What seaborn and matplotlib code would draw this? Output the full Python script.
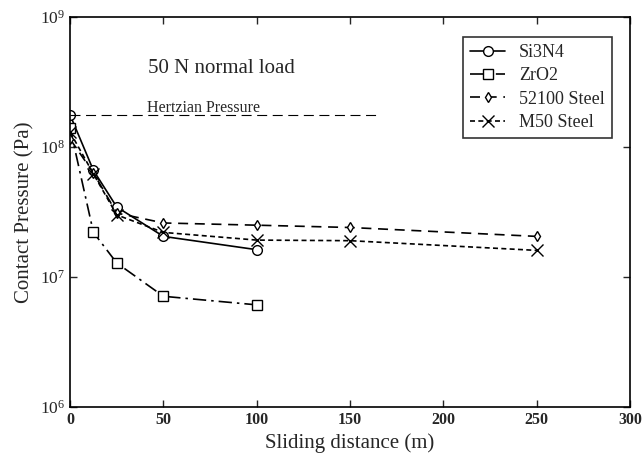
import matplotlib
matplotlib.use("Agg")
import matplotlib.pyplot as plt
import seaborn as sns
import pandas as pd

# sliding distance (m) and contact pressure (Pa)
si3n4_x = [0, 12.5, 25, 50, 100]
si3n4_y = [1.76e8, 6.6e7, 3.45e7, 2.05e7, 1.62e7]

zro2_x = [0, 12.5, 25, 50, 100]
zro2_y = [1.40e8, 2.2e7, 1.28e7, 7.1e6, 6.1e6]

s52100_x = [0, 12.5, 25, 50, 100, 150, 250]
s52100_y = [1.15e8, 6.3e7, 3.1e7, 2.6e7, 2.5e7, 2.4e7, 2.05e7]

m50_x = [0, 12.5, 25, 50, 100, 150, 250]
m50_y = [1.30e8, 6.2e7, 3.0e7, 2.2e7, 1.92e7, 1.9e7, 1.6e7]

hertz_x = [0, 165]
hertz_y = [1.76e8, 1.76e8]

sns.set_style("ticks")
plt.rcParams['font.family'] = ['Liberation Serif', 'DejaVu Serif']
plt.rcParams['mathtext.fontset'] = 'stix'

fig = plt.figure(figsize=(6.43, 4.55), dpi=100)
ax = fig.add_axes([0.109, 0.1055, 0.871, 0.8575])

series = [
    ("Si3N4", si3n4_x, si3n4_y, "-", "o", 7),
    ("ZrO2", zro2_x, zro2_y, (0, (8, 3, 1.5, 3)), "s", 7),
    ("52100 Steel", s52100_x, s52100_y, (0, (6, 4)), "d", 5.5),
    ("M50 Steel", m50_x, m50_y, (0, (3, 2)), "x", 8),
]
for name, xs, ys, ls, mk, ms in series:
    df = pd.DataFrame({"x": xs, "y": ys})
    sns.lineplot(data=df, x="x", y="y", ax=ax, color="black", linestyle=ls,
                 marker=mk, markersize=ms, markerfacecolor="white",
                 markeredgecolor="black", markeredgewidth=1.0, lw=1.2,
                 label=name)

sns.lineplot(x=hertz_x, y=hertz_y, ax=ax, color="black", lw=0.8,
             linestyle=(0, (9, 5)))

ax.set_yscale("log")
ax.set_xlim(0, 300)
ax.set_ylim(1e6, 1e9)
ax.set_xticks([0, 50, 100, 150, 200, 250, 300])
ax.set_xticklabels(["0", "50", "100", "150", "200", "250", "300"],
                   fontweight="bold", fontsize=11.5)
ax.set_yticks([1e6, 1e7, 1e8, 1e9])
ax.minorticks_off()
ax.tick_params(axis="y", labelsize=12.5)
ax.tick_params(direction="in", top=True, right=True, length=5, width=1)
for sp in ax.spines.values():
    sp.set_linewidth(1.2)
    sp.set_color("black")

ax.set_xlabel("Sliding distance (m)", fontsize=15)
ax.set_ylabel("Contact Pressure (Pa)", fontsize=15)

ax.text(42, 3.7e8, "50 N normal load", fontsize=15)
ax.text(41, 1.85e8, "Hertzian Pressure", fontsize=11.5)

leg = ax.legend(loc="upper right", bbox_to_anchor=(0.968, 0.949), fontsize=13,
                frameon=True, fancybox=False, edgecolor="black",
                handlelength=1.9, borderpad=0.4, labelspacing=0.35,
                borderaxespad=0)
leg.get_frame().set_linewidth(1.2)

fig.savefig("out.png", dpi=100)
